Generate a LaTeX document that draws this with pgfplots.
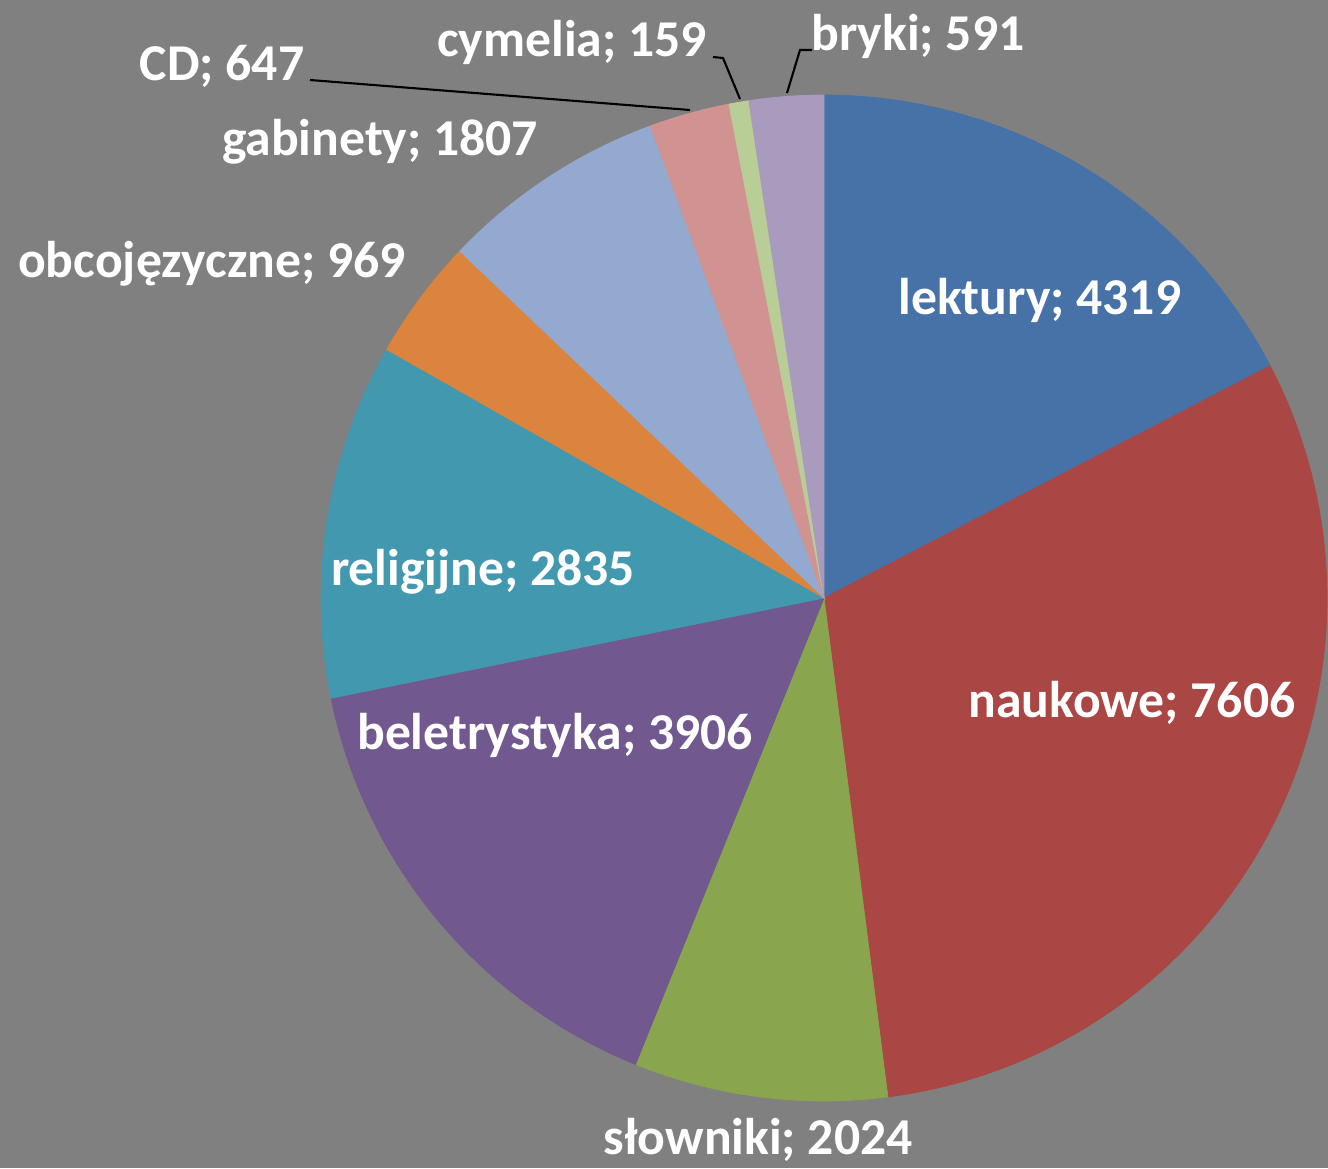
\documentclass[border=0pt]{standalone}
\usepackage{pgfplots}
\pgfplotsset{compat=1.18}
\usepackage{pgfplotstable}
\usepackage{fontspec}
\setmainfont{Carlito}

\definecolor{bg}{HTML}{808080}
\definecolor{c0}{HTML}{4672A8}
\definecolor{c1}{HTML}{AA4643}
\definecolor{c2}{HTML}{89A54E}
\definecolor{c3}{HTML}{71588F}
\definecolor{c4}{HTML}{4198AF}
\definecolor{c5}{HTML}{DB843D}
\definecolor{c6}{HTML}{93A9CF}
\definecolor{c7}{HTML}{D19392}
\definecolor{c8}{HTML}{B9CD96}
\definecolor{c9}{HTML}{A99BBD}

% slices clockwise from the top; lx, ly = label centre
\pgfplotstableread{
name          value  lx    ly
lektury       4319   1040  868
naukowe       7606   1132  465
słowniki      2024   758   28
beletrystyka  3906   555   433
religijne     2835   483   596
obcojęzyczne  969    212   904
gabinety      1807   380   1026
CD            647    222   1102
cymelia       159    572   1126
bryki         591    918   1132
}\slices

% total (integer arithmetic, it is too big for pgfmath)
\def\total{0}
\pgfplotsforeachungrouped \i in {0,...,9}{%
  \pgfplotstablegetelem{\i}{value}\of\slices
  \edef\total{\the\numexpr\total+\pgfplotsretval\relax}%
}
% start/end angles, from the running sum in 1/10 degree
\def\cum{0}
\pgfplotsforeachungrouped \i in {0,...,9}{%
  \pgfplotstablegetelem{\i}{value}\of\slices
  \let\v\pgfplotsretval
  \pgfmathsetmacro\st{90-\the\numexpr\cum*3600/\total\relax/10}%
  \edef\cum{\the\numexpr\cum+\v\relax}%
  \pgfmathsetmacro\en{90-\the\numexpr\cum*3600/\total\relax/10}%
  \expandafter\xdef\csname sa\i\endcsname{\st}%
  \expandafter\xdef\csname ea\i\endcsname{\en}%
  \pgfplotstablegetelem{\i}{name}\of\slices
  \expandafter\xdef\csname lab\i\endcsname{\pgfplotsretval; \v}%
  \pgfplotstablegetelem{\i}{lx}\of\slices
  \expandafter\xdef\csname lx\i\endcsname{\pgfplotsretval}%
  \pgfplotstablegetelem{\i}{ly}\of\slices
  \expandafter\xdef\csname ly\i\endcsname{\pgfplotsretval}%
}

\def\cx{824}
\def\cy{570}
\def\r{503}

\begin{document}
\begin{tikzpicture}
\begin{axis}[
    width=13.28cm, height=11.68cm, scale only axis,
    xmin=0, xmax=1328, ymin=0, ymax=1168,
    axis line style={draw=none}, ticks=none,
    axis background/.style={fill=bg},
    clip=false,
    ]
\pgfplotsinvokeforeach{0,...,9}{
  \addplot[fill=c#1, draw=c#1, line width=0.2pt,
    domain=\csname ea#1\endcsname:\csname sa#1\endcsname, samples=120]
    ({\cx+\r*cos(x)}, {\cy+\r*sin(x)}) -- (axis cs:\cx,\cy) -- cycle;
}
\draw[black, line width=0.6pt] (axis cs:310,1088) -- (axis cs:690,1058);
\draw[black, line width=0.6pt] (axis cs:713,1111) -- (axis cs:723,1110) -- (axis cs:740,1069);
\draw[black, line width=0.6pt] (axis cs:812,1118) -- (axis cs:800,1118) -- (axis cs:787,1075);
\pgfplotsinvokeforeach{0,...,9}{
  \node[text=white, font=\fontsize{14.7}{17}\selectfont\bfseries, inner sep=0pt]
    at (axis cs:\csname lx#1\endcsname,\csname ly#1\endcsname) {\csname lab#1\endcsname};
}
\end{axis}
\end{tikzpicture}
\end{document}
